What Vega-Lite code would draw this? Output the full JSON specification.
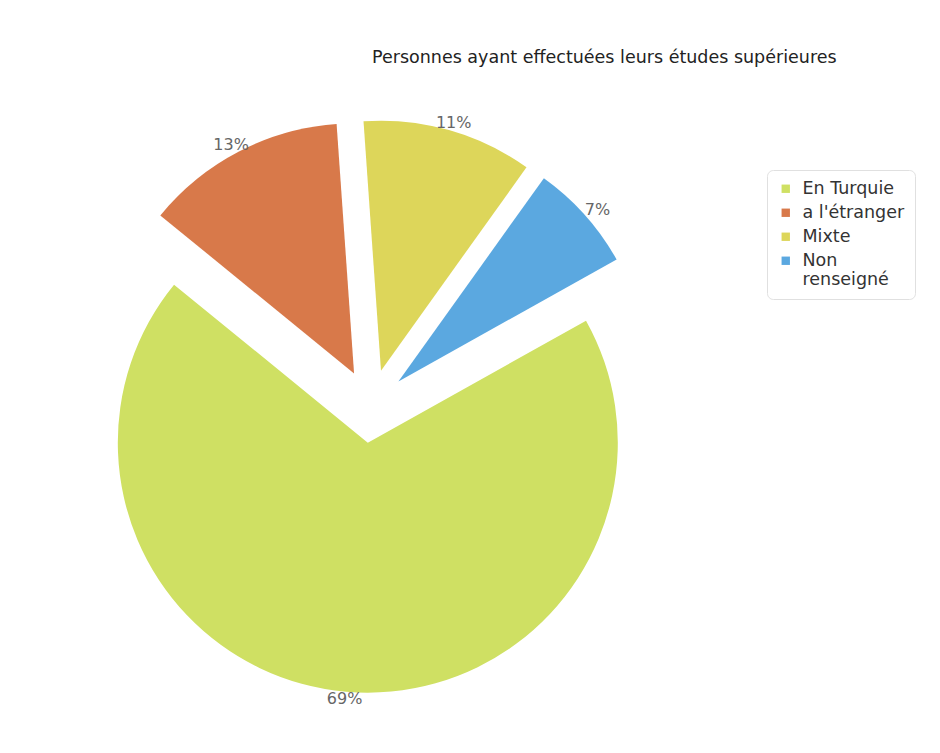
{
  "$schema": "https://vega.github.io/schema/vega-lite/v6.json",
  "width": 940,
  "height": 753,
  "autosize": "none",
  "padding": 0,
  "background": "white",
  "config": {"view": {"stroke": null}, "font": "DejaVu Sans"},
  "data": {
    "values": [
      {"cat": "Mixte", "pct": 11, "order": 1},
      {"cat": "Non renseigné", "pct": 7, "order": 2},
      {"cat": "En Turquie", "pct": 69, "order": 3},
      {"cat": "a l'étranger", "pct": 13, "order": 4}
    ]
  },
  "transform": [
    {"window": [{"op": "sum", "field": "pct", "as": "cum"}], "sort": [{"field": "order"}], "frame": [null, 0]},
    {"calculate": "datum.cum - datum.pct", "as": "start"},
    {"calculate": "-0.07 + 2 * PI * (datum.start + datum.pct / 2) / 100", "as": "mid"},
    {"calculate": "0.15 * sin(datum.mid)", "as": "cx"},
    {"calculate": "0.15 * cos(datum.mid)", "as": "cy"},
    {"calculate": "1.24 * sin(datum.mid)", "as": "lx"},
    {"calculate": "1.2 * cos(datum.mid)", "as": "ly"},
    {"calculate": "datum.pct + '%'", "as": "label"}
  ],
  "layer": [
    {
      "mark": {"type": "arc", "outerRadius": 250},
      "encoding": {
        "x": {"field": "cx", "type": "quantitative", "scale": {"domain": [-1.514, 2.322], "nice": false, "zero": false}, "axis": null},
        "y": {"field": "cy", "type": "quantitative", "scale": {"domain": [-1.416, 1.657], "nice": false, "zero": false}, "axis": null},
        "theta": {"field": "start", "type": "quantitative", "scale": {"domain": [0, 100], "range": [-0.07, 6.2132]}},
        "theta2": {"field": "cum"},
        "color": {
          "field": "cat",
          "type": "nominal",
          "scale": {
            "domain": ["En Turquie", "a l'étranger", "Mixte", "Non renseigné"],
            "range": ["#cfe063", "#d8794a", "#ddd65a", "#5ba8e0"]
          },
          "legend": {
            "title": null,
            "orient": "none",
            "legendX": 767,
            "legendY": 170,
            "symbolType": "square",
            "symbolSize": 70,
            "labelFontSize": 17.5,
            "labelColor": "#333",
            "labelFont": "DejaVu Sans",
            "labelOffset": 8,
            "rowPadding": 5,
            "labelExpr": "datum.label == 'Non renseigné' ? ['Non', 'renseigné'] : datum.label",
            "fillColor": "white",
            "strokeColor": "#e0e0e0",
            "cornerRadius": 6,
            "padding": 10
          }
        }
      }
    },
    {
      "mark": {"type": "text", "fontSize": 16, "color": "#666", "font": "DejaVu Sans"},
      "encoding": {
        "x": {"field": "lx", "type": "quantitative"},
        "y": {"field": "ly", "type": "quantitative"},
        "text": {"field": "label"}
      }
    }
  ],
  "title": {
    "text": "Personnes ayant effectuées leurs études supérieures",
    "anchor": "start",
    "orient": "top",
    "dx": 372,
    "dy": 70,
    "fontSize": 17.5,
    "fontWeight": "normal",
    "color": "#222",
    "font": "DejaVu Sans"
  }
}
